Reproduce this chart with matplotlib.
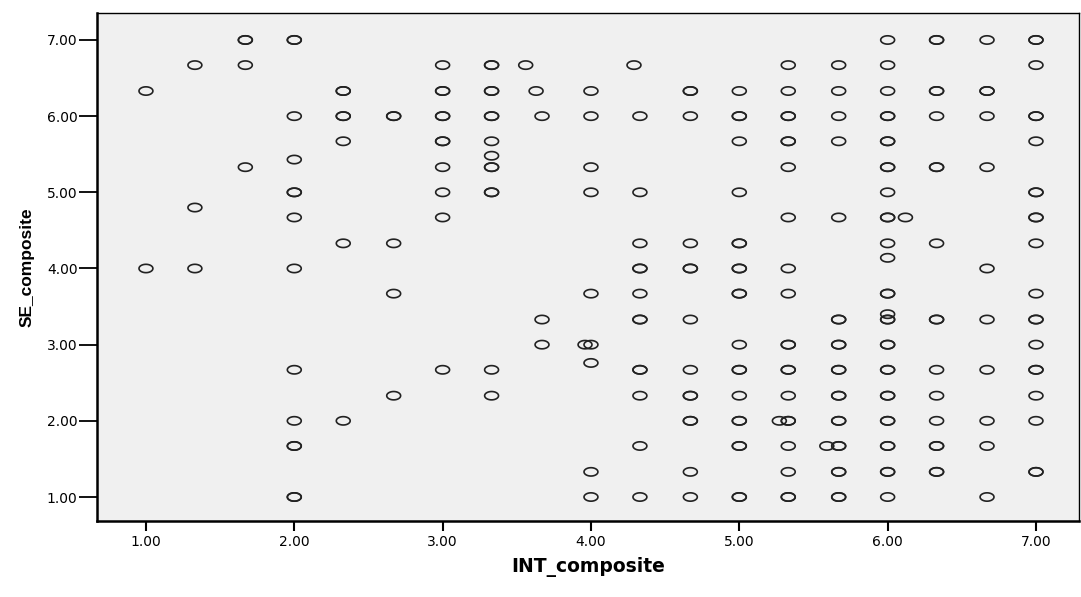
import numpy as np
import matplotlib
matplotlib.use('Agg')
import matplotlib.pyplot as plt
from matplotlib.path import Path

plt.rcParams['font.family'] = ['DejaVu Sans']

# INT_composite, SE_composite, how many cases sit on the same spot (bold rings)
int_vals = [
    1.67, 2.00, 6.00, 6.33, 6.67, 7.00,
    1.33, 1.67, 3.00, 3.33, 3.56, 4.29, 5.33, 5.67, 6.00, 7.00,
    1.00, 2.33, 3.00, 3.33, 3.63, 4.00, 4.67, 5.00, 5.33, 5.67, 6.00, 6.33, 6.67,
    2.00, 2.33, 2.67, 3.00, 3.33, 3.67, 4.00, 4.33, 4.67, 5.00, 5.33, 5.67, 6.00, 6.33, 6.67, 7.00,
    2.33, 3.00, 3.33, 5.00, 5.33, 5.67, 6.00, 7.00,
    2.00, 3.33,
    1.67, 3.00, 3.33, 4.00, 5.33, 6.00, 6.33, 6.67,
    2.00, 3.00, 3.33, 4.00, 4.33, 5.00, 6.00, 7.00,
    1.33,
    2.00, 3.00, 5.33, 5.67, 6.00, 6.12, 7.00,
    2.33, 2.67, 4.33, 4.67, 5.00, 6.00, 6.33, 7.00,
    6.00,
    1.00, 1.33, 2.00, 4.33, 4.67, 5.00, 5.33, 6.67,
    2.67, 4.00, 4.33, 5.00, 5.33, 6.00, 7.00,
    6.00,
    3.67, 4.33, 4.67, 5.67, 6.00, 6.33, 6.67, 7.00,
    3.67, 3.96, 4.00, 5.00, 5.33, 5.67, 6.00, 7.00,
    4.00,
    2.00, 3.00, 3.33, 4.33, 4.67, 5.00, 5.33, 5.67, 6.00, 6.33, 6.67, 7.00,
    2.67, 3.33, 4.33, 4.67, 5.00, 5.33, 5.67, 6.00, 6.33, 7.00,
    2.00, 2.33, 4.67, 5.00, 5.27, 5.33, 5.67, 6.00, 6.33, 6.67, 7.00,
    2.00, 4.33, 5.00, 5.33, 5.59, 5.67, 6.00, 6.33, 6.67,
    4.00, 4.67, 5.33, 5.67, 6.00, 6.33, 7.00,
    2.00, 4.00, 4.33, 4.67, 5.00, 5.33, 5.67, 6.00, 6.67,
]
se_vals = (
    [7.00] * 6 + [6.67] * 10 + [6.33] * 13 + [6.00] * 16 + [5.67] * 8
    + [5.43, 5.48] + [5.33] * 8 + [5.00] * 8 + [4.80] + [4.67] * 7
    + [4.33] * 8 + [4.14] + [4.00] * 8 + [3.67] * 7 + [3.40] + [3.33] * 8
    + [3.00] * 8 + [2.76] + [2.67] * 12 + [2.33] * 10 + [2.00] * 11
    + [1.67] * 9 + [1.33] * 7 + [1.00] * 9
)
counts = [
    2, 2, 1, 2, 1, 2,
    1, 1, 1, 2, 1, 1, 1, 1, 1, 1,
    1, 2, 2, 2, 1, 1, 2, 1, 1, 1, 1, 2, 2,
    1, 2, 2, 2, 2, 1, 1, 1, 1, 2, 2, 1, 2, 1, 1, 2,
    1, 2, 1, 1, 2, 1, 2, 1,
    1, 1,
    1, 1, 2, 1, 1, 2, 2, 1,
    2, 1, 2, 1, 1, 1, 1, 2,
    1,
    1, 1, 1, 1, 2, 1, 2,
    1, 1, 1, 1, 2, 1, 1, 1,
    1,
    1, 1, 1, 2, 2, 2, 1, 1,
    1, 1, 1, 2, 1, 2, 1,
    1,
    1, 2, 1, 2, 2, 2, 1, 2,
    1, 1, 1, 1, 2, 2, 2, 1,
    1,
    1, 1, 1, 2, 1, 2, 2, 2, 2, 1, 1, 2,
    1, 1, 1, 2, 1, 1, 2, 2, 1, 1,
    1, 1, 2, 2, 1, 2, 2, 2, 1, 1, 1,
    2, 1, 2, 1, 1, 2, 2, 2, 1,
    1, 1, 1, 2, 2, 2, 2,
    2, 1, 1, 1, 2, 2, 2, 1, 1,
]

x = np.repeat(int_vals, counts)
y = np.repeat(se_vals, counts)

# flat ring, as SPSS draws it
t = np.linspace(0, 2 * np.pi, 60)
ring = Path(np.column_stack([np.cos(t), 0.6 * np.sin(t)]), closed=True)

fig = plt.figure(figsize=(10.81, 5.97), dpi=100)
ax = fig.add_axes([97 / 1081, 1 - 521 / 597, 982 / 1081, 508 / 597])
ax.set_facecolor('#f0f0f0')
ax.scatter(x, y, marker=ring, s=100, facecolors='none', edgecolors='#222222', linewidths=1.2)

ax.set_xlim(0.67, 7.29)
ax.set_ylim(0.685, 7.354)
ax.set_xticks(np.arange(1, 8))
ax.set_yticks(np.arange(1, 8))
ax.xaxis.set_major_formatter(matplotlib.ticker.FormatStrFormatter('%.2f'))
ax.yaxis.set_major_formatter(matplotlib.ticker.FormatStrFormatter('%.2f'))
ax.tick_params(axis='x', direction='out', length=7, width=1.5, labelsize=10, pad=3)
ax.tick_params(axis='y', direction='out', length=13, width=1.3, labelsize=10, pad=1)
for s in ['top', 'right']:
    ax.spines[s].set_linewidth(1.0)
for s in ['left', 'bottom']:
    ax.spines[s].set_linewidth(1.8)

ax.set_xlabel('INT_composite', fontsize=13.5, fontweight='bold', labelpad=6)
ax.set_ylabel('SE_composite', fontsize=12.5, fontweight='bold', labelpad=9,
              family='Liberation Sans')

fig.savefig('out.png', dpi=100)
